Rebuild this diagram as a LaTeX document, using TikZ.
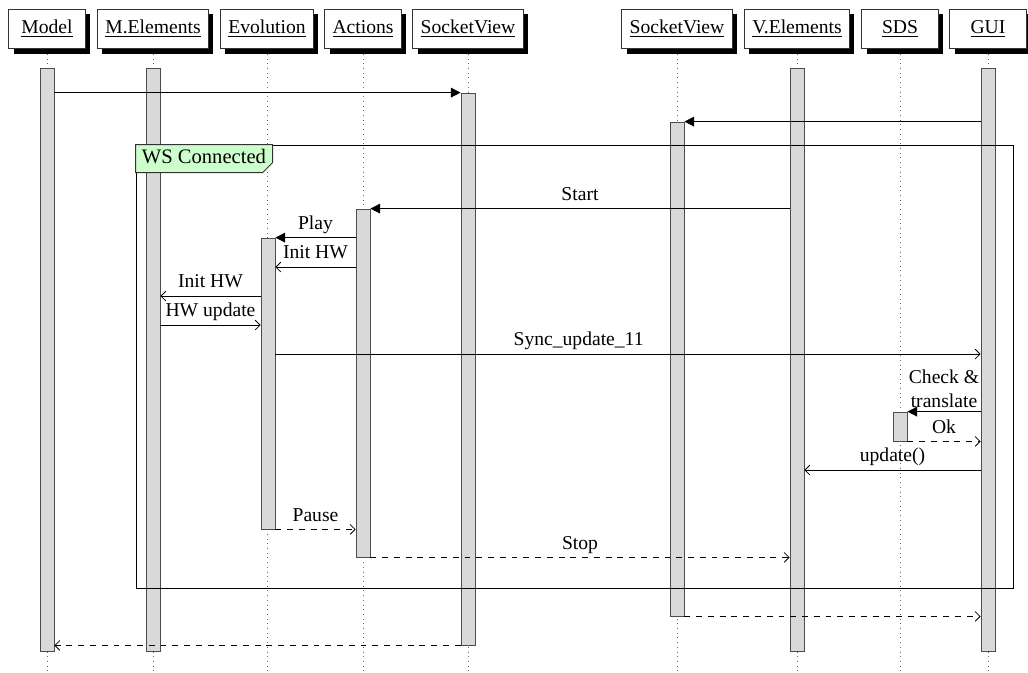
\documentclass[tikz,border=0pt]{standalone}
\usepackage{fontspec}
\setmainfont{Liberation Serif}
\usetikzlibrary{arrows.meta,shadows,fit}
\definecolor{framegreen}{HTML}{CCFFCC}
\definecolor{barfill}{HTML}{D9D9D9}

\begin{document}
\begin{tikzpicture}[x=0.51pt, y=-0.51pt,
  inst/.style={draw=black!80, fill=white, minimum width=39pt, minimum height=20pt,
    inner xsep=4pt, drop shadow={fill=black, opacity=1, shadow xshift=2.5pt, shadow yshift=-2.5pt}},
  life/.style={dotted, draw=black!60},
  act/.style={draw=black!70, fill=barfill, inner sep=0pt},
  call/.style={-{Triangle[length=5pt,width=5pt]}},
  msg/.style={-{Straight Barb[length=2.5pt,width=5pt]}},
  ret/.style={msg, dashed},
  lbl/.style={above, inner sep=1.5pt, text depth=2.5pt}
]
\useasboundingbox (0,0) rectangle (1028,672);

% instances
\node[inst] (model)   at (47,29)  {\underline{Model}};
\node[inst] (melem)   at (153,29) {\underline{M.Elements}};
\node[inst] (evol)    at (267,29) {\underline{Evolution}};
\node[inst] (actions) at (363,29) {\underline{Actions}};
\node[inst] (sockA)   at (468,29) {\underline{SocketView}};
\node[inst] (sockB)   at (677,29) {\underline{SocketView}};
\node[inst] (velem)   at (797,29) {\underline{V.Elements}};
\node[inst] (sds)     at (900,29) {\underline{SDS}};
\node[inst] (gui)     at (988,29) {\underline{GUI}};

% lifelines
\foreach \i in {model,melem,evol,actions,sockA,sockB,velem,sds,gui}
  \draw[life] ([yshift=-2.5pt]\i.south) -- (\i.south |- 0,672);

% activations
\node[act, fit={(40,68) (54,651)}]   (model-act)   {};
\node[act, fit={(146,68) (160,651)}] (melem-act)   {};
\node[act, fit={(461,93) (475,645)}] (sockA-act)   {};
\node[act, fit={(670,122) (684,616)}] (sockB-act)  {};
\node[act, fit={(790,68) (804,651)}] (velem-act)   {};
\node[act, fit={(981,68) (995,651)}] (gui-act)     {};
\node[act, fit={(356,209) (370,557)}] (actions-act) {};
\node[act, fit={(261,238) (275,529)}] (evol-act)   {};
\node[act, fit={(893,412) (907,441)}] (sds-act)    {};

% opening calls
\draw[call] (model-act.east |- sockA-act.north) -- (sockA-act.north west);
\draw[call] (gui-act.west |- sockB-act.north) -- (sockB-act.north east);

% frame
\node[draw, fit={(136,145) (1013,588)}, inner sep=0pt] (ws) {};
\draw[fill=framegreen, draw=black!80] (ws.north west) -- ++(137,0) -- ++(0,18)
  -- ++(-10,10) -- ++(-127,0) -- cycle;
\node[anchor=north west, inner xsep=3pt, inner ysep=2pt, font=\fontsize{10.5}{12}\selectfont]
  (ws-title) at (ws.north west) {WS Connected};

% messages
\draw[call] (velem-act.west |- actions-act.north) -- node[lbl]{Start} (actions-act.north east);
\draw[call] (actions-act.west |- evol-act.north) -- node[lbl]{Play} (evol-act.north east);
\draw[msg] (actions-act.west |- 0,267) -- node[lbl]{Init HW} (evol-act.east |- 0,267);
\draw[msg] (evol-act.west |- 0,296) -- node[lbl]{Init HW} (melem-act.east |- 0,296);
\draw[msg] (melem-act.east |- 0,325) -- node[lbl]{HW update} (evol-act.west |- 0,325);
\draw[msg] (evol-act.east |- 0,354) -- node[lbl, pos=0.43]{Sync\_update\_11} (gui-act.west |- 0,354);
\draw[call] (gui-act.west |- sds-act.north) -- node[above, inner sep=2pt, align=center]{Check \&\\translate} (sds-act.north east);
\draw[ret] (sds-act.south east) -- node[lbl]{Ok} (gui-act.west |- sds-act.south);
\draw[msg] (gui-act.west |- 0,470) -- node[lbl]{update()} (velem-act.east |- 0,470);
\draw[ret] (evol-act.south east) -- node[lbl]{Pause} (actions-act.west |- evol-act.south);
\draw[ret] (actions-act.south east) -- node[lbl]{Stop} (velem-act.west |- actions-act.south);

% returns
\draw[ret] (sockB-act.south east) -- (gui-act.west |- sockB-act.south);
\draw[ret] (sockA-act.south west) -- (model-act.east |- sockA-act.south);
\end{tikzpicture}
\end{document}
